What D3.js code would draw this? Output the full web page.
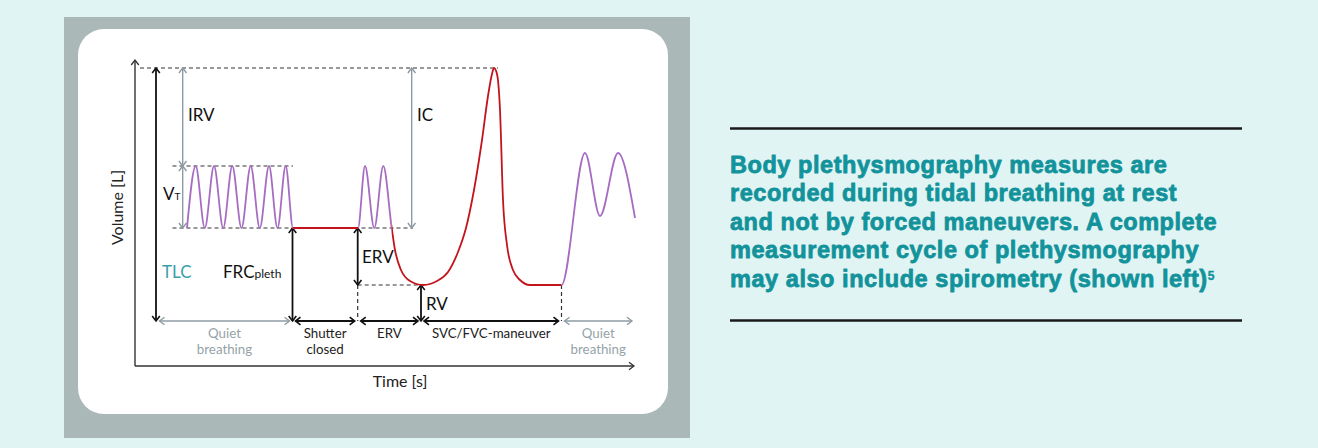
<!DOCTYPE html>
<html>
<head>
<meta charset="utf-8">
<script src="https://cdn.jsdelivr.net/npm/d3@7"></script>
<style>
  html, body { margin: 0; padding: 0; background: #e1f4f4; }
  svg { display: block; }
</style>
</head>
<body>
<svg id="chart" width="1318" height="448"></svg>
<script>
// spirogram trace: time [s] / volume [L]
const traceTime = [5.2, 6.07, 6.98, 7.9, 8.82, 9.73, 10.65, 11.57, 12.48, 13.4, 14.25, 15.07, 15.8,
  22.3, 23.0, 23.93, 24.83, 25.67, 26.0, 26.6, 27.5, 28.8, 30.2, 31.3, 32.3, 33.1, 33.9, 34.7,
  35.3, 35.7, 35.9, 36.2, 36.5, 36.8, 37.2, 37.8, 38.5, 39.5, 42.65,
  45.0, 46.5, 48.3, 50.0];
const traceVolume = [2.76, 4.0, 2.76, 4.0, 2.76, 4.0, 2.76, 4.0, 2.76, 4.0, 2.76, 4.0, 2.76,
  2.76, 4.0, 2.76, 4.0, 2.76, 2.32, 1.92, 1.70, 1.62, 1.70, 1.88, 2.28, 2.76, 3.52, 4.52,
  5.40, 5.84, 5.96, 5.84, 5.12, 3.32, 2.42, 1.92, 1.72, 1.62, 1.62,
  4.26, 3.0, 4.26, 2.96];

// colour changes along the trace
const traceBreaks = [5.0, 15.8, 22.3, 25.67, 42.65, 50.2];
const traceKinds = ["tidal", "held", "tidal", "forced", "tidal"];

// lung volume levels
const levelNames = ["TLC", "VT", "FRC", "RV"];
const levelVolumes = [5.96, 4.0, 2.76, 1.62];
const baseVolume = 0.9;

// measurement phases along the time axis
const phaseNames = [["Quiet", "breathing"], ["Shutter", "closed"], ["ERV"], ["SVC/FVC-maneuver"], ["Quiet", "breathing"]];
const phaseEdges = [2.15, 15.75, 22.27, 28.6, 42.65, 50.0];

const noteLines = [
  "Body plethysmography measures are",
  "recorded during tidal breathing at rest",
  "and not by forced maneuvers. A complete",
  "measurement cycle of plethysmography",
  "may also include spirometry (shown left)"
];

const svg = d3.select("#chart");
const font = "Lato, 'Open Sans', sans-serif";
const black = "#111", grey = "#8d9ca4", purple = "#a66cc2", red = "#c4141b";

// backdrop
svg.append("rect").attr("x", 64).attr("y", 17).attr("width", 626).attr("height", 421).attr("fill", "#aab8b7");
svg.append("rect").attr("x", 78).attr("y", 29).attr("width", 590).attr("height", 385).attr("rx", 26).attr("fill", "#fff");

const x = d3.scaleLinear().domain([0, 50]).range([135, 635]);
const y = d3.scaleLinear().domain([0, 6]).range([366, 66]);

const TLC = levelVolumes[0], VT = levelVolumes[1], FRC = levelVolumes[2], RV = levelVolumes[3];

const defs = svg.append("defs");
function marker(id, color, w) {
  defs.append("marker").attr("id", id)
    .attr("viewBox", "-8 -6 10 12").attr("refX", 0).attr("refY", 0)
    .attr("markerWidth", 10).attr("markerHeight", 12)
    .attr("markerUnits", "userSpaceOnUse").attr("orient", "auto-start-reverse")
    .append("path").attr("d", "M-5,-3.8L0,0L-5,3.8")
    .attr("fill", "none").attr("stroke", color).attr("stroke-width", w);
}
marker("hb", black, 1.6);
marker("hg", grey, 1.4);
marker("ha", "#333", 1.3);

const g = svg.append("g");

function arrow(x1, y1, x2, y2, color, both) {
  const id = color === black ? "hb" : color === grey ? "hg" : "ha";
  const l = g.append("line").attr("x1", x1).attr("y1", y1).attr("x2", x2).attr("y2", y2)
    .attr("stroke", color).attr("stroke-width", color === black ? 1.8 : 1.4)
    .attr("marker-end", `url(#${id})`);
  if (both) l.attr("marker-start", `url(#${id})`);
}
function dashed(x1, y1, x2, y2) {
  g.append("line").attr("x1", x1).attr("y1", y1).attr("x2", x2).attr("y2", y2)
    .attr("stroke", "#333").attr("stroke-width", 1.2).attr("stroke-dasharray", "4,3");
}
function label(tx, ty, text, size, color, anchor) {
  return g.append("text").attr("x", tx).attr("y", ty).text(text)
    .attr("font-family", font).attr("font-size", size).attr("fill", color || black)
    .attr("text-anchor", anchor || "start");
}

// axes
arrow(x(0), y(0), x(0), y(6.12), "#333", false);
arrow(x(0), y(0), x(49.9), y(0), "#333", false);
label(x(26.5), 387, "Time [s]", 16, "#222", "middle");
label(0, 0, "Volume [L]", 16, "#222", "middle")
  .attr("transform", `translate(123,${y(3.17)}) rotate(-90)`);

// dashed reference levels
dashed(x(0.5), y(TLC), x(36.3), y(TLC));
dashed(x(3.75), y(VT), x(15.8), y(VT));
dashed(x(3.75), y(FRC), x(27.8), y(FRC));
dashed(x(22.27), y(RV), x(28.6), y(RV));
dashed(x(22.27), y(RV), x(22.27), y(baseVolume));
dashed(x(42.65), y(RV), x(42.65), y(baseVolume));

// vertical volume arrows
arrow(x(2.1), y(baseVolume), x(2.1), y(TLC), black, true);
arrow(x(4.77), y(VT), x(4.77), y(TLC), grey, true);
arrow(x(4.77), y(FRC), x(4.77), y(VT), grey, true);
arrow(x(27.67), y(FRC), x(27.67), y(TLC), grey, true);
arrow(x(15.75), y(baseVolume), x(15.75), y(FRC), black, true);
arrow(x(22.27), y(RV), x(22.27), y(FRC), black, true);
arrow(x(28.6), y(baseVolume), x(28.6), y(RV), black, true);

// phase arrows + labels
phaseNames.forEach((name, i) => {
  const c = name[0] === "Quiet" ? grey : black;
  const a = phaseEdges[i] + 0.3, b = phaseEdges[i + 1] - 0.3;
  arrow(x(a), y(baseVolume), x(b), y(baseVolume), c, true);
  const mid = x((phaseEdges[i] + phaseEdges[i + 1]) / 2);
  name.forEach((w, k) => label(mid, 338 + k * 16, w, 13.3, c === grey ? "#95a3a8" : "#222", "middle"));
});

// volume labels
label(x(5.3), y(4.9), "IRV", 17);
label(x(28.2), y(4.9), "IC", 17);
label(x(2.8), y(3.32), "V", 17).append("tspan").attr("font-size", 10).text("T");
label(x(2.7), y(1.76), "TLC", 17, "#3aa0a8");
label(x(8.8), y(1.76), "FRC", 17).append("tspan").attr("font-size", 12).text("pleth");
label(x(22.7), y(2.06), "ERV", 17);
label(x(29.1), y(1.12), "RV", 17);

// trace, coloured per phase through clip rects
const pts = traceTime.map((t, i) => [t, traceVolume[i]]);
const line = d3.line().x(d => x(d[0])).y(d => y(d[1])).curve(d3.curveMonotoneX);
traceKinds.forEach((k, i) => {
  const id = "clip" + i;
  defs.append("clipPath").attr("id", id).append("rect")
    .attr("x", x(traceBreaks[i])).attr("y", 0)
    .attr("width", x(traceBreaks[i + 1]) - x(traceBreaks[i])).attr("height", 448);
  g.append("path").datum(pts).attr("d", line)
    .attr("fill", "none").attr("stroke", k === "tidal" ? purple : red)
    .attr("stroke-width", 1.8).attr("clip-path", `url(#${id})`);
});

// side note
svg.append("line").attr("x1", 730).attr("x2", 1242).attr("y1", 128.5).attr("y2", 128.5)
  .attr("stroke", "#1a1a1a").attr("stroke-width", 2.5);
svg.append("line").attr("x1", 730).attr("x2", 1242).attr("y1", 320.5).attr("y2", 320.5)
  .attr("stroke", "#1a1a1a").attr("stroke-width", 2.5);
noteLines.forEach((s, i) => {
  const t = svg.append("text").attr("x", 730).attr("y", 173 + i * 28.4)
    .attr("font-family", "'Liberation Sans', Arial, sans-serif").attr("font-weight", "bold")
    .attr("font-size", 23.5).attr("letter-spacing", 0.55).attr("fill", "#12939b")
    .attr("stroke", "#12939b").attr("stroke-width", 0.8).attr("stroke-linejoin", "round").text(s);
  if (i === noteLines.length - 1)
    t.append("tspan").attr("font-size", 12).attr("stroke-width", 0.4).attr("dy", -6.5).text("5");
});
</script>
</body>
</html>
